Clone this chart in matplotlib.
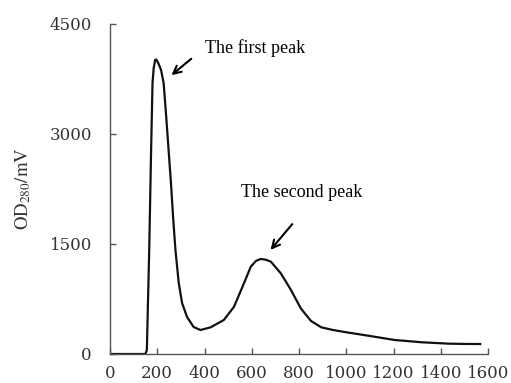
import matplotlib
matplotlib.use("Agg")
import matplotlib.pyplot as plt

plt.rcParams["mathtext.fontset"] = "stix"

# Elution volume (x) and OD280 signal (mV)
volume = [0, 100, 150, 156, 166, 174, 180, 185, 191, 196, 204, 216, 227, 238, 248, 258,
          267, 277, 291, 305, 326, 354, 383, 426, 482, 525, 567, 596, 618, 638, 660,
          681, 723, 766, 808, 851, 894, 940, 993, 1092, 1205, 1319, 1433, 1500, 1567]
signal = [0, 0, 0, 55, 1418, 2782, 3696, 3900, 4010, 4015, 3970, 3874, 3696, 3233, 2782, 2332,
          1869, 1418, 968, 696, 505, 368, 327, 364, 464, 645, 964, 1191, 1270, 1296, 1285,
          1259, 1100, 873, 620, 450, 364, 330, 300, 250, 191, 160, 141, 137, 136]

x_ticks = [0, 200, 400, 600, 800, 1000, 1200, 1400, 1600]
y_ticks = [0, 1500, 3000, 4500]

label_first = "The first peak"
label_second = "The second peak"

fig = plt.figure(figsize=(5.11, 3.83), dpi=100)
ax = fig.add_axes([110/511, 1-354/383, (488-110)/511, (354-24)/383])

ax.plot(volume, signal, color="#111111", lw=1.6, solid_joinstyle="round")

ax.set_xlim(0, 1600)
ax.set_ylim(0, 4500)
ax.set_xticks(x_ticks)
ax.set_yticks(y_ticks)

for s in ["top", "right"]:
    ax.spines[s].set_visible(False)
for s in ["left", "bottom"]:
    ax.spines[s].set_color("#555555")
    ax.spines[s].set_linewidth(1.0)

ax.tick_params(axis="both", direction="in", length=4.3, width=1.0, color="#555555",
               labelcolor="#333333", labelsize=12)
ax.tick_params(axis="y", pad=13)
ax.tick_params(axis="x", pad=8)
for lab in ax.get_xticklabels() + ax.get_yticklabels():
    lab.set_family("DejaVu Serif")

ax.set_ylabel(r"$\mathrm{OD}_{280}\mathrm{/mV}$", fontsize=13.5, color="#333333")
ax.yaxis.set_label_coords(-0.204, 0.5)

ax.annotate("", xy=(251, 3778), xytext=(353, 4050),
            arrowprops=dict(arrowstyle="->", lw=1.5, color="black", mutation_scale=14))
ax.annotate("", xy=(672, 1391), xytext=(779, 1800),
            arrowprops=dict(arrowstyle="->", lw=1.5, color="black", mutation_scale=14))
ax.text(404, 4173, label_first, family="Liberation Serif", fontsize=13, va="center", ha="left")
ax.text(553, 2196, label_second, family="Liberation Serif", fontsize=13, va="center", ha="left")

fig.savefig("out.png", dpi=100)
